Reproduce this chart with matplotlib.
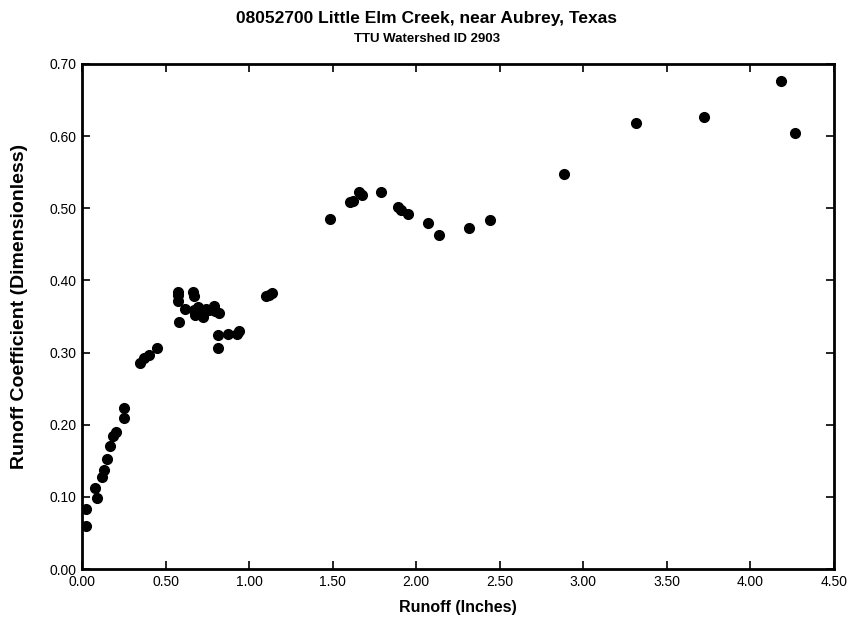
import matplotlib
matplotlib.use('Agg')
import matplotlib.pyplot as plt
import numpy as np

plt.rcParams['font.family'] = ['Liberation Sans', 'DejaVu Sans']

runoff = [0.024, 0.024, 0.080, 0.090, 0.120, 0.134, 0.150, 0.166, 0.186, 0.205,
          0.249, 0.249, 0.349, 0.373, 0.399, 0.449,
          0.572, 0.572, 0.572, 0.580, 0.616, 0.667, 0.669, 0.671, 0.677, 0.697,
          0.706, 0.723, 0.743, 0.763, 0.791, 0.797, 0.817, 0.813, 0.813,
          0.876, 0.926, 0.942, 1.100, 1.120, 1.140,
          1.484, 1.603, 1.620, 1.659, 1.675, 1.787, 1.892, 1.908, 1.948,
          2.073, 2.135, 2.316, 2.444,
          2.882, 3.318, 3.720, 4.184, 4.266]
coef = [0.083, 0.059, 0.112, 0.099, 0.127, 0.137, 0.152, 0.171, 0.185, 0.190,
        0.223, 0.209, 0.286, 0.293, 0.296, 0.306,
        0.384, 0.380, 0.372, 0.343, 0.360, 0.384, 0.379, 0.359, 0.352, 0.363,
        0.357, 0.349, 0.361, 0.359, 0.364, 0.358, 0.355, 0.325, 0.306,
        0.326, 0.326, 0.330, 0.378, 0.380, 0.382,
        0.485, 0.509, 0.510, 0.522, 0.518, 0.522, 0.502, 0.497, 0.492,
        0.479, 0.463, 0.472, 0.484,
        0.547, 0.618, 0.627, 0.676, 0.604]

xticks = np.arange(0, 4.51, 0.5)
yticks = np.arange(0, 0.701, 0.1)

fig = plt.figure(figsize=(8.54, 6.26), dpi=100)
ax = fig.add_axes([0.096, 0.091, 0.8806, 0.8068])
ax.plot(runoff, coef, 'o', color='black', markersize=7, linestyle='none')
ax.set_xlim(0, 4.5)
ax.set_ylim(0, 0.7)
ax.set_xticks(xticks)
ax.set_yticks(yticks)
ax.set_xticklabels(['%.2f' % v for v in xticks], fontsize=10)
ax.set_yticklabels(['%.2f' % v for v in yticks], fontsize=10)
ax.tick_params(direction='in', top=True, right=True, length=6, width=1.2, pad=4)
for s in ax.spines.values():
    s.set_linewidth(2)
ax.set_xlabel('Runoff (Inches)', fontsize=11.5, fontweight='bold', labelpad=8)
ax.set_ylabel('Runoff Coefficient (Dimensionless)', fontsize=14, fontweight='bold')
ax.yaxis.set_label_coords(-0.072, 0.52)
fig.text(0.5, 0.970, '08052700 Little Elm Creek, near Aubrey, Texas', ha='center', va='center',
         fontsize=12.5, fontweight='bold')
fig.text(0.5, 0.938, 'TTU Watershed ID 2903', ha='center', va='center',
         fontsize=9.5, fontweight='bold')
fig.savefig('out.png', dpi=100)
